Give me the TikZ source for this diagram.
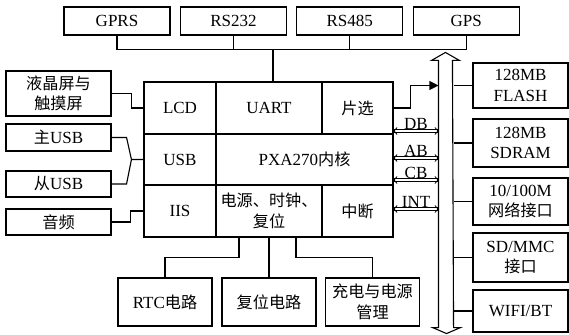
\documentclass[tikz,border=0pt]{standalone}
\usepackage{fontspec}
\setmainfont{Liberation Serif}
\newfontfamily\cjk[Scale=0.95]{Noto Sans CJK SC}
\newcommand{\zh}[1]{{\cjk #1}}
\usepackage{tikz}
\usetikzlibrary{arrows.meta, positioning, calc}
\tikzstyle{periph2} = [rectangle, minimum width=105pt, minimum height=26pt, inner sep=0pt, align=center, draw=black]
\tikzstyle{top2} = [periph2, minimum width=106pt, minimum height=28pt]
\tikzstyle{low2} = [periph2, minimum width=94pt, minimum height=48pt]
\tikzstyle{mem2} = [periph2, minimum width=95pt]
\tikzstyle{cell2} = [rectangle, minimum height=52pt, inner sep=0pt, align=center, draw=black]
\tikzstyle{arrow2} = [-{Triangle[length=9pt,width=9pt]}]
\tikzstyle{dbl2} = [double, line width=0.8pt, double distance=1.8pt, {Straight Barb[length=3pt,width=7pt]}-{Straight Barb[length=3pt,width=7pt]}]

\begin{document}
\begin{tikzpicture}[x=1pt, y=-1pt, line width=1.1pt, font=\fontsize{17}{20.5}\selectfont]
            \useasboundingbox (0,0) rectangle (569,334);
            % Nodes
            \node (gprs) [top2] at (117,21) {GPRS};
            \node (rs232) [top2, right of=gprs, node distance=116.4pt] {RS232};
            \node (rs485) [top2, right of=rs232, node distance=116.4pt] {RS485};
            \node (gps) [top2, right of=rs485, node distance=116.4pt] {GPS};

            \node (lcd) [cell2, minimum width=72pt] at (180,108) {LCD};
            \node (uart) [cell2, minimum width=106pt, right of=lcd, node distance=89pt] {UART};
            \node (cs) [cell2, minimum width=71pt, right of=uart, node distance=88.5pt] {\zh{片选}};
            \node (usb) [cell2, minimum width=72pt, minimum height=51pt, below of=lcd, node distance=51.5pt] {USB};
            \node (core) [cell2, minimum width=177pt, minimum height=51pt, right of=usb, node distance=124.5pt] {PXA270\zh{内核}};
            \node (iis) [cell2, minimum width=72pt, below of=usb, node distance=51.5pt] {IIS};
            \node (pwr) [cell2, minimum width=106pt, right of=iis, node distance=89pt] {\zh{电源、时钟、}\\\zh{复位}};
            \node (irq) [cell2, minimum width=71pt, right of=pwr, node distance=88.5pt] {\zh{中断}};

            \node (lcdp) [periph2, minimum height=45pt] at (58.5,93.5) {\zh{液晶屏与}\\\zh{触摸屏}};
            \node (musb) [periph2, minimum height=27pt, below of=lcdp, node distance=44pt] {\zh{主}USB};
            \node (susb) [periph2, below of=musb, node distance=46.5pt] {\zh{从}USB};
            \node (audio) [periph2, below of=susb, node distance=38pt] {\zh{音频}};

            \node (rtc) [low2] at (165,302) {RTC\zh{电路}};
            \node (reset) [low2, right of=rtc, node distance=104pt] {\zh{复位电路}};
            \node (chg) [low2, right of=reset, node distance=103.5pt] {\zh{充电与电源}\\\zh{管理}};

            \node (flash) [mem2, minimum height=45pt] at (520.5,85.5) {128MB\\FLASH};
            \node (sdram) [mem2, minimum height=48pt, below of=flash, node distance=57.5pt] {128MB\\SDRAM};
            \node (net) [mem2, minimum height=47pt, below of=sdram, node distance=58.5pt] {10/100M\\\zh{网络接口}};
            \node (sd) [mem2, minimum height=49pt, below of=net, node distance=56pt] {SD/MMC\\\zh{接口}};
            \node (wifi) [mem2, minimum height=42pt, below of=sd, node distance=53.5pt] {WIFI/BT};

            \node (bus) [minimum width=14pt, minimum height=266pt, inner sep=0pt] at (446,194) {};
            \draw (bus.south west) -- (bus.north west) -- ++(-7,0) -- ++(14,-8) -- ++(14,8) -- ++(-7,0)
                  -- (bus.south east) -- ++(7,0) -- ++(-14,6) -- ++(-14,-6) -- cycle;

            \coordinate (dbpt) at (416,131);
            \coordinate (abpt) at (416,158);
            \coordinate (cbpt) at (416,180);
            \coordinate (intpt) at (416,209);
            \coordinate (fork) at ($(usb.west)+(-12,0)$);

            % Edges
            \draw (gprs.south) -- ++(0,14) coordinate (tbus) -| (gps.south);
            \draw (rs232.south) -- (rs232.south |- tbus);
            \draw (rs485.south) -- (rs485.south |- tbus);
            \draw ([xshift=4pt]uart.north) -- ([xshift=4pt]uart.north |- tbus);

            \draw (lcdp.east) -- ++(20,0) |- (lcd.west);
            \draw (musb.east) -- ++(15,0) -- (fork) -- (usb.west);
            \draw (susb.east) -- ++(15,0) -- (fork);
            \draw (audio.east) -- ++(19,0) |- (iis.west);

            \draw ([xshift=-30pt]pwr.south) -- ++(0,20) -| (rtc.north);
            \draw (pwr.south) -- (reset.north);
            \draw ([xshift=27pt]pwr.south) -- ++(0,20) -| (chg.north);

            \draw [arrow2] (cs.east) -- ++(17,0) |- (bus.west |- flash.west);
            \draw [dbl2] (dbpt -| core.east) -- node[above, inner sep=1pt] {DB} (dbpt -| bus.west);
            \draw [dbl2] (abpt -| core.east) -- node[above, inner sep=1pt] {AB} (abpt -| bus.west);
            \draw [dbl2] (cbpt -| core.east) -- node[above, inner sep=1pt] {CB} (cbpt -| bus.west);
            \draw [dbl2] (intpt -| irq.east) -- node[above, inner sep=1pt] {INT} (intpt -| bus.west);

            \draw (flash.west) -- (flash.west -| bus.east);
            \draw (sdram.west) -- (sdram.west -| bus.east);
            \draw (net.west) -- (net.west -| bus.east);
            \draw (sd.west) -- (sd.west -| bus.east);
            \draw (wifi.west) -- (wifi.west -| bus.east);
        \end{tikzpicture}
\end{document}
